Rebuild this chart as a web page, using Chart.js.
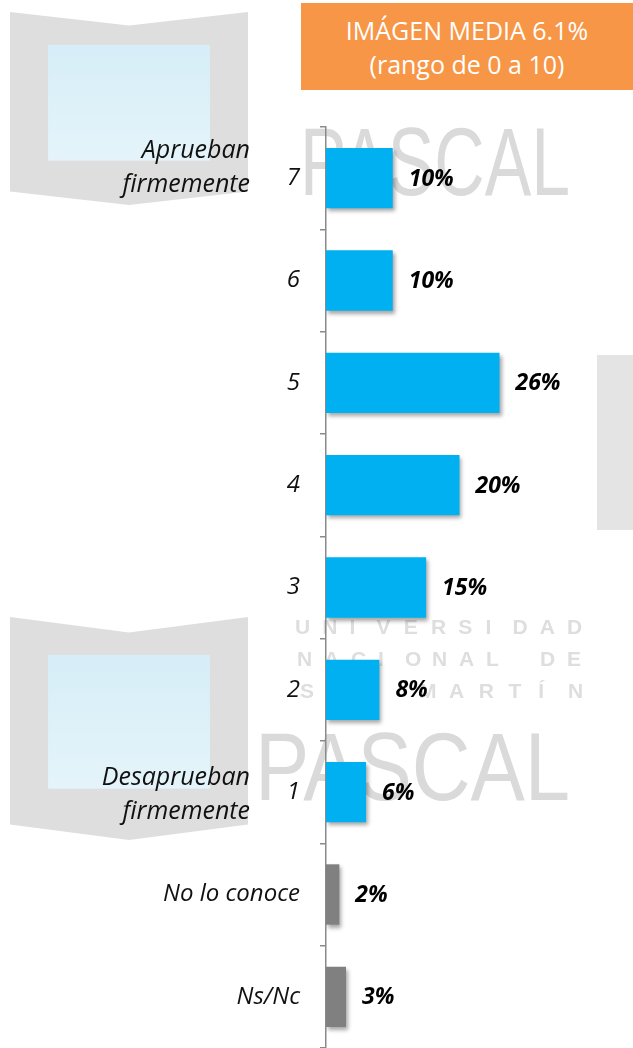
<!DOCTYPE html>
<html>
<head>
<meta charset="utf-8">
<script src="https://cdn.jsdelivr.net/npm/chart.js@4.4.0/dist/chart.umd.min.js"></script>
<style>
  html, body { margin: 0; padding: 0; background: #fff; }
  #wrap { position: relative; width: 633px; height: 1048px; overflow: hidden; }
  #badge {
    position: absolute; left: 301px; top: 3px; width: 332px; height: 87px;
    background: #F79646; color: #fff; font-family: "Open Sans", sans-serif; font-size: 25px;
    text-align: center; line-height: 34px; padding-top: 10px; box-sizing: border-box; z-index: 2;
  }
</style>
</head>
<body>
<div id="wrap">
  <div id="badge"></div>
  <canvas id="grafico"></canvas>
</div>
<script>
// datos
const categorias = ['7', '6', '5', '4', '3', '2', '1', 'No lo conoce', 'Ns/Nc'];
const porcentajes = [10, 10, 26, 20, 15, 8, 6, 2, 3];
const grupos = ['escala', 'escala', 'escala', 'escala', 'escala', 'escala', 'escala', 'otros', 'otros'];
const notasLaterales = { '7': ['Aprueban', 'firmemente'], '1': ['Desaprueban', 'firmemente'] };
const tituloRecuadro = ['IMÁGEN MEDIA 6.1%', '(rango de 0 a 10)'];

const colores = { escala: '#00B0F0', otros: '#808080' };
const fuente = '"Open Sans", sans-serif';

document.getElementById('badge').innerHTML = tituloRecuadro.join('<br>');

// texto con letras repartidas en un ancho
function textoEspaciado(ctx, txt, x, y, ancho) {
  const paso = ancho / (txt.length - 1);
  for (let i = 0; i < txt.length; i++) {
    ctx.fillText(txt[i], x + i * paso, y);
  }
}

// logo de fondo (marca de agua)
const marcaAgua = {
  id: 'marcaAgua',
  beforeDraw(chart) {
    const ctx = chart.ctx;
    ctx.save();
    function libro(x, y, w, h) {
      ctx.fillStyle = '#dedede';
      ctx.beginPath();
      ctx.moveTo(x, y);
      ctx.lineTo(x + w / 2, y + h * 0.07);
      ctx.lineTo(x + w, y);
      ctx.lineTo(x + w, y + h * 0.93);
      ctx.lineTo(x + w / 2, y + h);
      ctx.lineTo(x, y + h * 0.93);
      ctx.closePath();
      ctx.fill();
      const g = ctx.createLinearGradient(0, y, 0, y + h);
      g.addColorStop(0, '#d2ecf7');
      g.addColorStop(1, '#eaf6fb');
      ctx.fillStyle = g;
      ctx.fillRect(x + w * 0.16, y + h * 0.17, w * 0.68, h * 0.6);
    }
    libro(10, 12, 238, 193);
    libro(10, 617, 238, 223);
    ctx.fillStyle = '#e4e4e4';
    ctx.fillRect(597, 355, 36, 175);
    ctx.fillStyle = '#dadada';
    ctx.textBaseline = 'alphabetic';
    ctx.textAlign = 'left';
    ctx.font = '96px "Liberation Sans Narrow", "Liberation Sans", sans-serif';
    ctx.fillText('PASCAL', 300, 195, 270);
    ctx.fillText('PASCAL', 255, 800, 315);
    ctx.fillStyle = '#dedede';
    ctx.font = 'bold 21px "Liberation Sans", sans-serif';
    textoEspaciado(ctx, 'UNIVERSIDAD', 295, 634, 272);
    textoEspaciado(ctx, 'NACIONAL DE', 297, 666, 270);
    textoEspaciado(ctx, 'SAN MARTÍN', 300, 698, 268);
    ctx.restore();
  }
};

// sombra suave de las barras
const sombra = {
  id: 'sombra',
  beforeDatasetDraw(chart) {
    const ctx = chart.ctx;
    ctx.save();
    ctx.shadowColor = 'rgba(0,0,0,0.35)';
    ctx.shadowBlur = 4;
    ctx.shadowOffsetX = 2;
    ctx.shadowOffsetY = 3;
  },
  afterDatasetDraw(chart) {
    chart.ctx.restore();
  }
};

// etiquetas de valor y notas a la izquierda
const etiquetas = {
  id: 'etiquetas',
  afterDatasetsDraw(chart) {
    const ctx = chart.ctx;
    const meta = chart.getDatasetMeta(0);
    ctx.save();
    ctx.fillStyle = '#000';
    ctx.textBaseline = 'middle';
    ctx.textAlign = 'left';
    ctx.font = 'italic bold 23px ' + fuente;
    meta.data.forEach((barra, i) => {
      ctx.fillText(porcentajes[i] + '%', barra.x + 16, barra.y + 1);
    });
    ctx.textAlign = 'right';
    ctx.fillStyle = '#111';
    ctx.font = 'italic 25px ' + fuente;
    const yScale = chart.scales.y;
    Object.keys(notasLaterales).forEach(cat => {
      const yc = yScale.getPixelForValue(categorias.indexOf(cat));
      const lineas = notasLaterales[cat];
      const desde = cat === '7' ? yc - 27 : yc - 14;
      lineas.forEach((l, k) => ctx.fillText(l, 250, desde + k * 34));
    });
    ctx.restore();
  }
};

new Chart(document.getElementById('grafico'), {
  type: 'bar',
  data: {
    labels: categorias,
    datasets: [{
      data: porcentajes,
      backgroundColor: grupos.map(g => colores[g]),
      borderWidth: 0,
      barPercentage: 0.59,
      categoryPercentage: 1
    }]
  },
  options: {
    indexAxis: 'y',
    responsive: true,
    maintainAspectRatio: false,
    animation: false,
    layout: { padding: { top: 127, bottom: 0, left: 0, right: 0 } },
    plugins: {
      legend: { display: false },
      tooltip: { enabled: false }
    },
    scales: {
      x: { display: false, min: 0, max: 46 },
      y: {
        afterFit(scale) {
          scale.width = 326;
          scale.paddingTop = 0;
          scale.paddingBottom = 0;
        },
        grid: { drawOnChartArea: false, drawTicks: true, tickLength: 6, color: '#8a8a8a', lineWidth: 1.5 },
        border: { color: '#8a8a8a', width: 1.5 },
        ticks: { color: '#111', padding: 20, font: { family: fuente, size: 24, style: 'italic' } }
      }
    }
  },
  plugins: [marcaAgua, sombra, etiquetas]
});
</script>
</body>
</html>
